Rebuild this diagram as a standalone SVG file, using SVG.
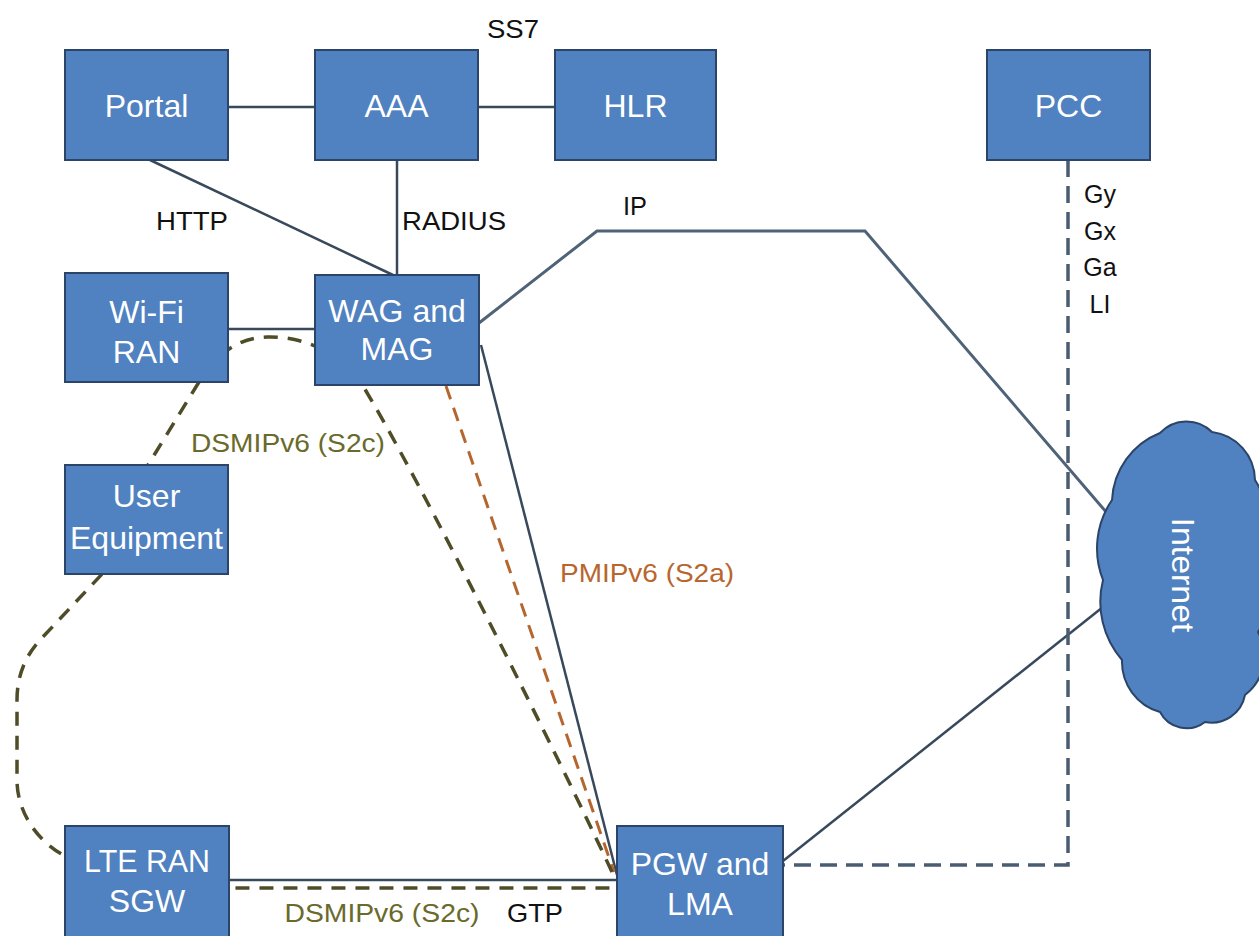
<svg xmlns="http://www.w3.org/2000/svg" width="1259" height="936" viewBox="0 0 1259 936">
  <style>
    .box { fill: #5081c0; stroke: #2b4468; stroke-width: 2; }
    .bt { font-family: "Liberation Sans", Arial, sans-serif; font-size: 32px; fill: #ffffff; text-anchor: middle; }
    .lbl { font-family: "Liberation Sans", Arial, sans-serif; font-size: 25px; fill: #111111; text-anchor: middle; }
    .olive { fill: #6a6a2c; }
    .orange { fill: #b8662e; }
    .solid { fill: none; stroke: #38495c; stroke-width: 2.5; }
    .ip { fill: none; stroke: #4f6378; stroke-width: 3; }
    .pcc { fill: none; stroke: #4a5c72; stroke-width: 3.5; stroke-dasharray: 17 9; }
    .loop { fill: none; stroke: #4f4c28; stroke-width: 3.5; stroke-dasharray: 14 10; }
    .pmip { fill: none; stroke: #b5662f; stroke-width: 3; stroke-dasharray: 14 9; }
  </style>
  <rect width="1259" height="936" fill="#ffffff"/>

  <g id="connectors">
    <line class="solid" x1="228" y1="107" x2="315" y2="107"/>
    <line class="solid" x1="478" y1="107" x2="555" y2="107"/>
    <line class="solid" x1="150" y1="160" x2="393" y2="275"/>
    <line class="solid" x1="397" y1="160" x2="397" y2="275"/>
    <line class="solid" x1="228" y1="329" x2="315" y2="329"/>
    <polyline class="ip" points="479,323 597,231 865,231 1107,513"/>
    <line class="solid" x1="481" y1="345" x2="617" y2="875"/>
    <line class="solid" x1="229" y1="880" x2="617" y2="880"/>
    <line class="solid" x1="783" y1="861" x2="1108" y2="603"/>
    <polyline class="pcc" points="1068,160 1068,865 783,865"/>
    <line class="pmip" x1="446" y1="386" x2="614" y2="872"/>
    <path class="loop" d="M612,872 C560,760 420,480 363,386 C340,350 300,336 267,337 C240,338 220,350 199,382 L148,465 L103,573 L40,640 Q17,665 17,700 L17,780 C17,810 35,840 65,856 L229,888 L612,888"/>
    <text class="lbl" x="513" y="38" textLength="52" lengthAdjust="spacingAndGlyphs">SS7</text>
    <text class="lbl" x="192" y="230" textLength="72" lengthAdjust="spacingAndGlyphs">HTTP</text>
    <text class="lbl" x="454" y="230" textLength="104" lengthAdjust="spacingAndGlyphs">RADIUS</text>
    <text class="lbl" x="635" y="215" textLength="24" lengthAdjust="spacingAndGlyphs">IP</text>
    <text class="lbl olive" x="288" y="452" textLength="194" lengthAdjust="spacingAndGlyphs">DSMIPv6 (S2c)</text>
    <text class="lbl orange" x="647" y="582" textLength="174" lengthAdjust="spacingAndGlyphs">PMIPv6 (S2a)</text>
    <text class="lbl olive" x="382" y="922" textLength="195" lengthAdjust="spacingAndGlyphs">DSMIPv6 (S2c)</text>
    <text class="lbl" x="535" y="922" textLength="56" lengthAdjust="spacingAndGlyphs">GTP</text>
    <text class="lbl" x="1100" y="203">Gy</text>
    <text class="lbl" x="1100" y="240">Gx</text>
    <text class="lbl" x="1100" y="276">Ga</text>
    <text class="lbl" x="1100" y="313">LI</text>
  </g>

  <g id="portal">
    <rect class="box" x="65" y="50" width="163" height="110"/>
    <text class="bt" x="146.5" y="117">Portal</text>
  </g>
  <g id="aaa">
    <rect class="box" x="315" y="50" width="163" height="110"/>
    <text class="bt" x="396.5" y="117">AAA</text>
  </g>
  <g id="hlr">
    <rect class="box" x="555" y="50" width="161" height="110"/>
    <text class="bt" x="635.5" y="117">HLR</text>
  </g>
  <g id="pcc">
    <rect class="box" x="987" y="50" width="163" height="110"/>
    <text class="bt" x="1068.5" y="117">PCC</text>
  </g>
  <g id="wifi">
    <rect class="box" x="65" y="273" width="163" height="109"/>
    <text class="bt" x="146.5" y="323">Wi-Fi</text>
    <text class="bt" x="146.5" y="363">RAN</text>
  </g>
  <g id="wag">
    <rect class="box" x="315" y="275" width="164" height="110"/>
    <text class="bt" x="397" y="322">WAG and</text>
    <text class="bt" x="397" y="360">MAG</text>
  </g>
  <g id="ue">
    <rect class="box" x="65" y="465" width="163" height="109"/>
    <text class="bt" x="146.5" y="507">User</text>
    <text class="bt" x="146.5" y="549">Equipment</text>
  </g>
  <g id="lte">
    <rect class="box" x="65" y="826" width="164" height="112"/>
    <text class="bt" x="147" y="872" textLength="126" lengthAdjust="spacingAndGlyphs">LTE RAN</text>
    <text class="bt" x="147" y="912">SGW</text>
  </g>
  <g id="pgw">
    <rect class="box" x="617" y="826" width="166" height="112"/>
    <text class="bt" x="700" y="875">PGW and</text>
    <text class="bt" x="700" y="915">LMA</text>
  </g>
  <g id="internet">
    <path class="box" d="M1112,500 A76,76 0 0,1 1160,433 A36,36 0 0,1 1212,432 A49,49 0 0,1 1255,480 A85,85 0 0,1 1262,560 A70,70 0 0,1 1258,632 A49,49 0 0,1 1245,695 A34,34 0 0,1 1205,722 A30,30 0 0,1 1160,712 A52,52 0 0,1 1122,660 A89,89 0 0,1 1103,580 A86,86 0 0,1 1112,500 Z"/>
    <text class="bt" transform="translate(1172,575) rotate(90)" x="0" y="0" font-size="31" textLength="115" lengthAdjust="spacingAndGlyphs">Internet</text>
  </g>
</svg>
